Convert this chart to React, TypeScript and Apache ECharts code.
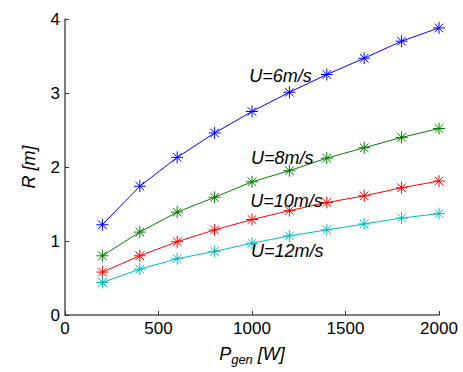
import React, { useEffect, useRef } from "react";
import * as echarts from "echarts";

const powers = [200, 400, 600, 800, 1000, 1200, 1400, 1600, 1800, 2000];
const r6 = [1.22, 1.74, 2.13, 2.46, 2.75, 3.01, 3.25, 3.47, 3.70, 3.88];
const r8 = [0.80, 1.12, 1.39, 1.59, 1.80, 1.95, 2.12, 2.26, 2.40, 2.52];
const r10 = [0.58, 0.80, 0.99, 1.15, 1.29, 1.41, 1.52, 1.61, 1.72, 1.81];
const r12 = [0.44, 0.62, 0.76, 0.86, 0.97, 1.07, 1.15, 1.23, 1.31, 1.37];
const labels = ["U=6m/s", "U=8m/s", "U=10m/s", "U=12m/s"];
const labelPos = [
  [985, 3.23],
  [995, 2.12],
  [990, 1.54],
  [995, 0.865],
];
const colors = ["#0000ff", "#008000", "#ff0000", "#00bfbf"];

const star =
  "path://M0,-6L0,6M-6,0L6,0M-4.3,-4.3L4.3,4.3M-4.3,4.3L4.3,-4.3";

export default function App() {
  const ref = useRef<HTMLDivElement>(null);
  useEffect(() => {
    const chart = echarts.init(ref.current!, null, { renderer: "svg" });
    const all = [r6, r8, r10, r12];
    const font = "'Liberation Sans', Arial, sans-serif";
    chart.setOption({
      animation: false,
      backgroundColor: "#fff",
      grid: { left: 65, right: 24, top: 19, bottom: 57, containLabel: false, outerBoundsMode: "none" },
      xAxis: {
        type: "value",
        min: 0,
        max: 2000,
        interval: 500,
        name: "{i|P}{s|gen}{i| [W]}",
        nameLocation: "middle",
        nameGap: 26,
        nameTextStyle: {
          rich: {
            i: { fontSize: 18, fontStyle: "italic", fontFamily: font, color: "#000" },
            s: { fontSize: 13, fontStyle: "italic", fontFamily: font, color: "#000", padding: [12, 0, 0, 0] },
          },
        },
        axisLine: { lineStyle: { color: "#555", width: 1.5 } },
        axisTick: { inside: true, length: 4, lineStyle: { color: "#333" } },
        axisLabel: { color: "#000", fontSize: 17, fontFamily: font, margin: 5, formatter: (v: number) => String(v) },
        splitLine: { show: false },
      },
      yAxis: {
        type: "value",
        min: 0,
        max: 4,
        interval: 1,
        name: "R [m]",
        nameLocation: "middle",
        nameGap: 27,
        nameTextStyle: { fontSize: 18, fontStyle: "italic", fontFamily: font, color: "#000" },
        axisLine: { show: true, lineStyle: { color: "#555", width: 1.5 } },
        axisTick: { show: true, inside: true, length: 4, lineStyle: { color: "#333" } },
        axisLabel: { color: "#000", fontSize: 17, fontFamily: font, margin: 5, formatter: (v: number) => String(v) },
        splitLine: { show: false },
      },
      series: all.map((vals, k) => ({
        type: "line",
        data: powers.map((p, i) => [p, vals[i]]),
        symbol: star,
        symbolSize: 12,
        showAllSymbol: true,
        lineStyle: { color: colors[k], width: 1 },
        itemStyle: { color: colors[k], borderColor: colors[k], borderWidth: 1 },
        markPoint: {
          symbol: "circle",
          symbolSize: 0,
          data: [
            {
              coord: labelPos[k],
              label: {
                show: true,
                position: "right",
                distance: 0,
                formatter: labels[k],
                fontSize: 18,
                fontStyle: "italic",
                fontFamily: font,
                color: "#000",
              },
            },
          ],
        },
      })),
    });
    return () => chart.dispose();
  }, []);
  return (
    <div
      ref={ref}
      style={{ position: "fixed", left: 0, top: 0, width: 463, height: 372 }}
    />
  );
}
